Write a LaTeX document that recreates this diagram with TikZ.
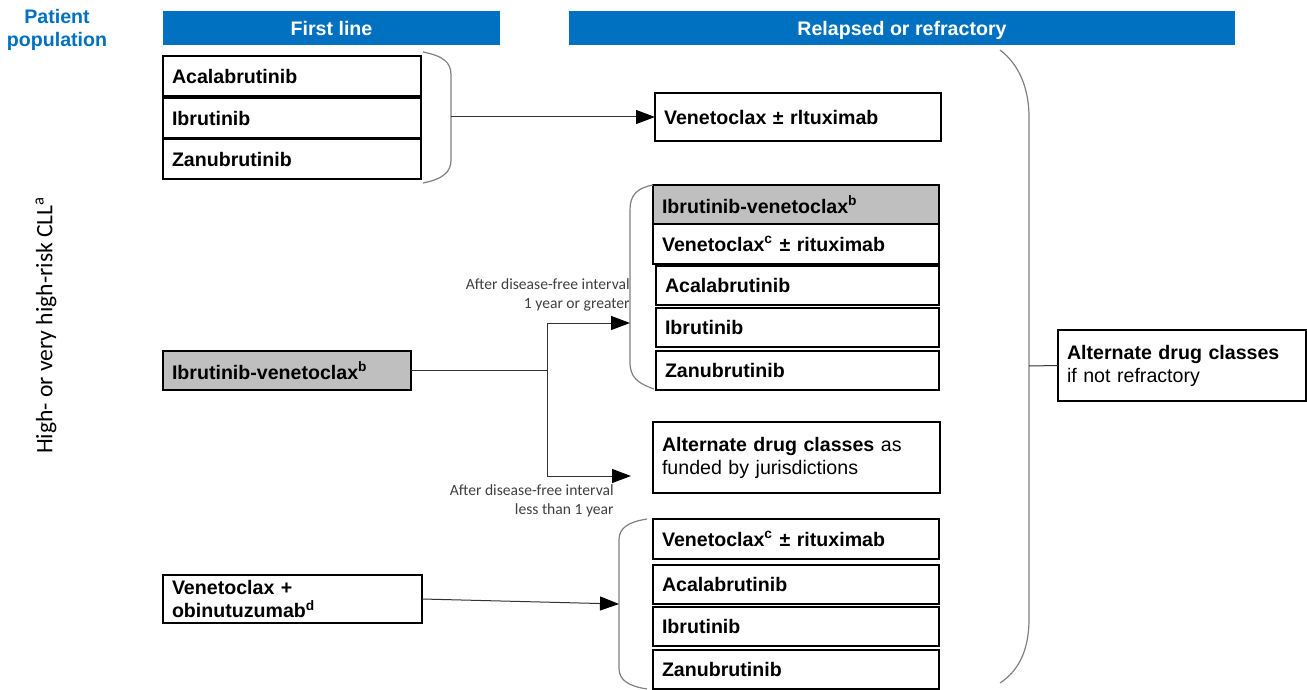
\documentclass[tikz,border=0pt]{standalone}
\usepackage{fontspec}
\setmainfont{Liberation Sans}
\newfontfamily\calibfont{Carlito}
\usetikzlibrary{arrows.meta}
\definecolor{hdrblue}{RGB}{0,112,192}
\definecolor{boxgray}{RGB}{191,191,191}
\definecolor{bracegray}{RGB}{128,128,128}
\definecolor{notegray}{RGB}{64,64,64}
\newcommand{\boxsize}{\fontsize{9.8}{11.5}\selectfont}

\begin{document}
\begin{tikzpicture}[x=0.5pt,y=-0.5pt,
  drugbox/.style 2 args={draw, thick, anchor=north west, inner xsep=4.5pt, inner ysep=0pt,
    outer sep=0pt, text width=#1, minimum height=#2, align=left, font=\boxsize\bfseries},
  hdrbar/.style={fill=hdrblue, text=white, anchor=north west, inner sep=0pt, outer sep=0pt,
    minimum height=17pt, text height=8.5pt, text depth=0.5pt, font=\boxsize\bfseries},
  note/.style={anchor=east, align=right, text=notegray, inner sep=0pt,
    font=\calibfont\fontsize{7.8}{9.5}\selectfont},
  conn/.style={draw=black!80, line width=0.5pt},
  arr/.style={conn, -{Triangle[length=9.5pt,width=7pt,color=black]}},
  brace/.style={draw=bracegray, line width=0.6pt}]
\useasboundingbox (0,0) rectangle (1307,690);

% headers
\node (pophdr) at (57,30) [align=center, text=hdrblue, font=\boxsize\bfseries, inner sep=0pt] {Patient\\population};
\node (hdrfirst) at (163,11) [hdrbar, minimum width=168.5pt] {First line};
\node (hdrrel) at (569,11) [hdrbar, minimum width=333pt] {Relapsed or refractory};
\node (cll) at (46,325) [rotate=90, inner sep=0pt, font=\calibfont\fontsize{11.8}{13}\selectfont] {High- or very high-risk CLL\textsuperscript{a}};

% first line
\node (acala1) at (163,56) [drugbox={120pt}{20pt}] {Acalabrutinib};
\node (ibru1) at (163,98) [drugbox={120pt}{20pt}] {Ibrutinib};
\node (zanu1) at (163,139) [drugbox={120pt}{20pt}] {Zanubrutinib};
\node (ibven1) at (163,351) [drugbox={115pt}{19.5pt}, fill=boxgray] {Ibrutinib-venetoclax\textsuperscript{b}};
\node (venobi) at (163,575) [drugbox={120.5pt}{24pt}] {Venetoclax +\\obinutuzumab\textsuperscript{d}};

% relapsed or refractory
\node (venR1) at (655,93) [drugbox={134pt}{24pt}] {Venetoclax ± rltuximab};

\node (ibvenR) at (653,185) [drugbox={134pt}{19.5pt}, fill=boxgray] {Ibrutinib-venetoclax\textsuperscript{b}};
\node (venR2) at (653,224) [drugbox={134pt}{20pt}] {Venetoclax\textsuperscript{c} ± rituximab};
\node (acala2) at (656,266) [drugbox={132.5pt}{19.5pt}] {Acalabrutinib};
\node (ibru2) at (656,308) [drugbox={132.5pt}{19.5pt}] {Ibrutinib};
\node (zanu2) at (656,351) [drugbox={132.5pt}{19.5pt}] {Zanubrutinib};

\node (altfund) at (653,422) [drugbox={134.5pt}{35.5pt}, font=\boxsize] {\textbf{Alternate drug classes} as\\funded by jurisdictions};

\node (venR3) at (653,519) [drugbox={134pt}{20pt}] {Venetoclax\textsuperscript{c} ± rituximab};
\node (acala3) at (653,565) [drugbox={134pt}{19.5pt}] {Acalabrutinib};
\node (ibru3) at (653,607) [drugbox={134pt}{19.5pt}] {Ibrutinib};
\node (zanu3) at (653,650) [drugbox={134pt}{19.5pt}] {Zanubrutinib};

\node (altnr) at (1058,330) [drugbox={115pt}{35.5pt}, font=\boxsize] {\textbf{Alternate drug classes}\\if not refractory};

% braces
\draw[brace] (423,52) .. controls (443,56) and (451,62) .. (451,75) -- (451,160)
  .. controls (451,172) and (443,179) .. (423,183);
\draw[brace] (653,185) .. controls (637,188) and (630,195) .. (630,210) -- (630,362)
  .. controls (630,377) and (637,383) .. (654,389);
\draw[brace] (647,519) .. controls (628,522) and (619,528) .. (619,540) -- (619,668)
  .. controls (619,680) and (628,686) .. (647,689);
\draw[brace] (1000,50) .. controls (1020,65) and (1029,90) .. (1029,117) -- (1029,619)
  .. controls (1029,648) and (1020,670) .. (1000,683);

\coordinate (br1) at (451,117);
\coordinate (br2) at (630,323);
\coordinate (br3) at (619,604);
\coordinate (br4) at (1029,366);
\coordinate (split) at (547,370.5);
\coordinate (tofund) at (631,476);

% connectors
\draw[arr] (br1) -- (venR1.west);
\draw[conn] (ibven1.east) -- (split);
\draw[conn] (split |- br2) -- (split |- tofund);
\draw[arr] (split |- br2) -- (br2);
\draw[arr] (split |- tofund) -- (tofund);
\draw[arr] (venobi.east) -- (br3);
\draw[conn] (br4) -- (altnr.west);

\node (noteup) at (630,295) [note] {After disease-free interval\\1 year or greater};
\node (notedown) at (614,501) [note] {After disease-free interval\\less than 1 year};
\end{tikzpicture}
\end{document}
